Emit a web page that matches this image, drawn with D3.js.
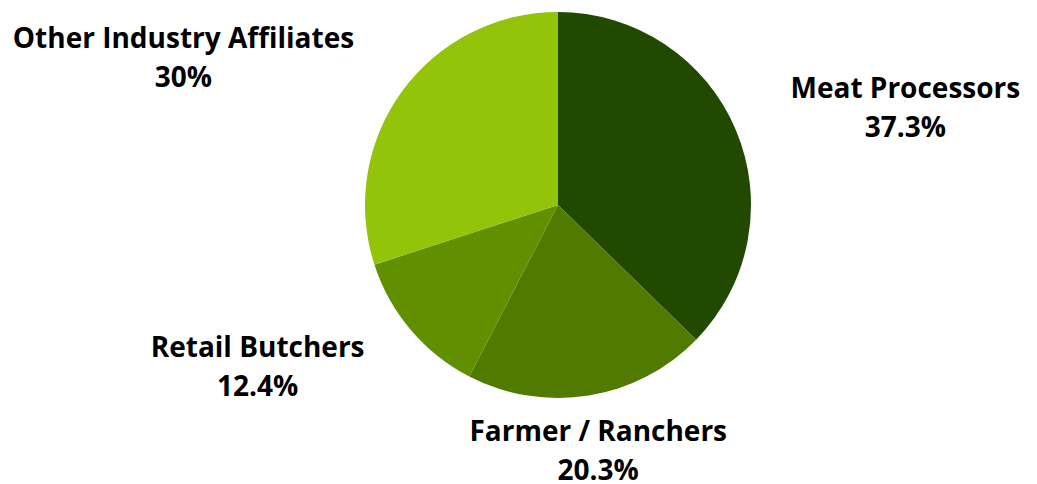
<!DOCTYPE html>
<html><head><meta charset="utf-8">
<script src="https://cdn.jsdelivr.net/npm/d3@7"></script>
<style>html,body{margin:0;padding:0;background:#fff;}svg{display:block;}</style>
</head><body>
<svg id="chart" width="1037" height="484"></svg>
<script>
const categories = ["Meat Processors", "Farmer / Ranchers", "Retail Butchers", "Other Industry Affiliates"];
const values = [37.3, 20.3, 12.4, 30];
const valueLabels = ["37.3%", "20.3%", "12.4%", "30%"];
const colors = ["#214900", "#507a00", "#608f00", "#94c40a"];

const W = 1037, H = 484;
const cx = 558, cy = 205, R = 193;
const labelRx = 390, labelRy = 250.7;
const labelNudgeX = [-12, -22, -3, -59];
const labelNudgeY = [0, -1, 0, 0];

const svg = d3.select("#chart");
const g = svg.append("g").attr("transform", `translate(${cx},${cy})`);
const pie = d3.pie().sort(null).value(d => d)(values);
const arc = d3.arc().innerRadius(0).outerRadius(R);

g.selectAll("path").data(pie).join("path")
  .attr("d", arc)
  .attr("fill", (d, i) => colors[i]);

const labels = svg.append("g")
  .attr("font-family", "'Open Sans', sans-serif")
  .attr("font-weight", "bold")
  .attr("font-size", 28)
  .attr("fill", "#000")
  .attr("text-anchor", "middle");

pie.forEach((d, i) => {
  const a = (d.startAngle + d.endAngle) / 2;
  const x = cx + Math.sin(a) * labelRx + labelNudgeX[i];
  const y = cy - Math.cos(a) * labelRy - 10 + labelNudgeY[i];
  const t = labels.append("text");
  t.append("tspan").attr("x", x).attr("y", y).text(categories[i]);
  t.append("tspan").attr("x", x).attr("y", y + 39).text(valueLabels[i]);
});
</script>
</body></html>
